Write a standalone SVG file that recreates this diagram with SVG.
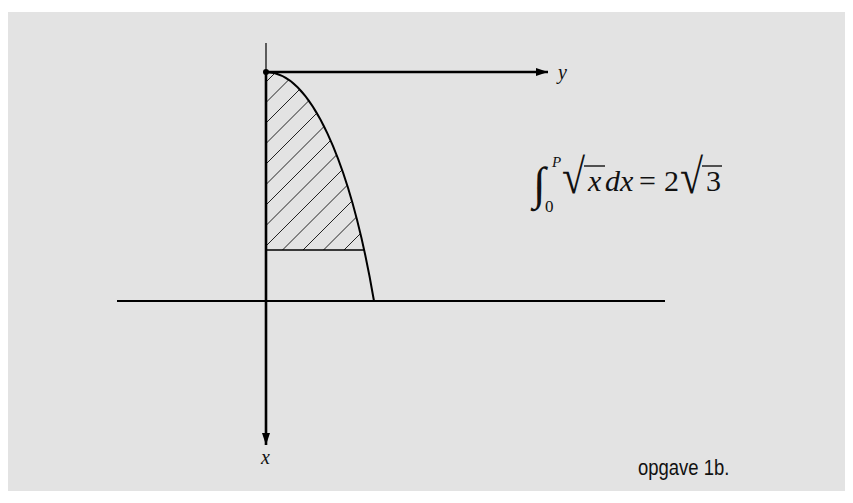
<svg xmlns="http://www.w3.org/2000/svg" width="853" height="503" viewBox="0 0 853 503">
  <style>
    .ax { stroke: #000; fill: none; }
    .hatch { stroke: #222; stroke-width: 1; }
    .math { font-family: "Liberation Serif", "Times New Roman", serif; fill: #111; }
    .it { font-style: italic; }
    .cap { font-family: "Liberation Sans Narrow", "Liberation Sans", Arial, sans-serif; fill: #111; }
  </style>
  <defs>
    <marker id="arr" viewBox="0 0 12 8" refX="12" refY="4" markerWidth="12" markerHeight="8" markerUnits="userSpaceOnUse" orient="auto">
      <path d="M0,0 L12,4 L0,8 Z" fill="#000"/>
    </marker>
    <clipPath id="region">
      <path d="M266,72 C310,72 350,160 374,301 L266,301 Z"/>
    </clipPath>
    <clipPath id="upper">
      <rect x="266" y="60" width="200" height="190"/>
    </clipPath>
  </defs>

  <rect x="8" y="12" width="837" height="479" fill="#e3e3e3"/>

  <g id="hatching" clip-path="url(#upper)">
    <g clip-path="url(#region)">
      <g class="hatch">
        <line x1="200" y1="148" x2="400" y2="-52"/>
        <line x1="200" y1="168.5" x2="400" y2="-31.5"/>
        <line x1="200" y1="189" x2="400" y2="-11"/>
        <line x1="200" y1="209.5" x2="400" y2="9.5"/>
        <line x1="200" y1="230" x2="400" y2="30"/>
        <line x1="200" y1="250.5" x2="400" y2="50.5"/>
        <line x1="200" y1="271" x2="400" y2="71"/>
        <line x1="200" y1="291.5" x2="400" y2="91.5"/>
        <line x1="200" y1="312" x2="400" y2="112"/>
        <line x1="200" y1="332.5" x2="400" y2="132.5"/>
        <line x1="200" y1="353" x2="400" y2="153"/>
        <line x1="200" y1="373.5" x2="400" y2="173.5"/>
        <line x1="200" y1="394" x2="400" y2="194"/>
        <line x1="200" y1="414.5" x2="400" y2="214.5"/>
        <line x1="200" y1="435" x2="400" y2="235"/>
      </g>
    </g>
  </g>

  <g id="connectors">
    <line class="ax" x1="117" y1="301" x2="665" y2="301" stroke-width="1.8"/>
    <line class="ax" x1="266" y1="250" x2="364" y2="250" stroke-width="1.6"/>
    <line class="ax" x1="266" y1="43" x2="266" y2="72" stroke-width="1.2"/>
    <line class="ax" x1="266" y1="72" x2="266" y2="445" stroke-width="2.6" marker-end="url(#arr)"/>
    <line class="ax" x1="266" y1="72" x2="548" y2="72" stroke-width="2.6" marker-end="url(#arr)"/>
    <path class="ax" d="M266,72 C310,72 350,160 374,301" stroke-width="2"/>
    <circle cx="266" cy="72" r="3" fill="#000"/>
  </g>

  <g id="label-y"><text class="math it" x="558" y="79" font-size="20">y</text></g>
  <g id="label-x"><text class="math it" x="261" y="464" font-size="20">x</text></g>

  <g id="formula">
    <text class="math" x="533" y="199" font-size="46">∫</text>
    <text class="math it" x="552" y="167" font-size="15">P</text>
    <text class="math" x="545" y="212" font-size="17">0</text>
    <text class="math" transform="translate(562,193) scale(1.5,1.75)" font-size="28">√</text>
    <line x1="584" y1="166" x2="605" y2="166" stroke="#111" stroke-width="1.4"/>
    <text class="math it" x="588" y="191" font-size="30">x</text>
    <text class="math it" x="605" y="191" font-size="30">dx</text>
    <text class="math" x="639" y="191" font-size="30">=</text>
    <text class="math" x="664" y="191" font-size="30">2</text>
    <text class="math" transform="translate(680,193) scale(1.5,1.75)" font-size="28">√</text>
    <line x1="702" y1="166" x2="722" y2="166" stroke="#111" stroke-width="1.4"/>
    <text class="math" x="706" y="191" font-size="30">3</text>
  </g>

  <g id="caption"><text class="cap" transform="translate(638,475) scale(0.84,1)" font-size="22">opgave 1b.</text></g>
</svg>
